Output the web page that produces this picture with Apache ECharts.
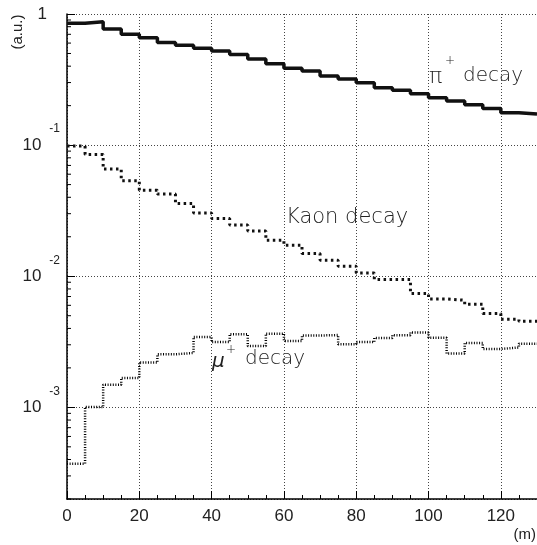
<!DOCTYPE html>
<html><head><meta charset="utf-8">
<script src="https://cdn.jsdelivr.net/npm/echarts@6/dist/echarts.min.js"></script>
<style>html,body{margin:0;padding:0;background:#fff}#c{width:537px;height:545px}</style>
</head><body><div id="c"></div>
<script>
// bin lower edges (m), bin width 5 m, last edge 130 m
const binStart = [0,5,10,15,20,25,30,35,40,45,50,55,60,65,70,75,80,85,90,95,100,105,110,115,120,125];
const binEndLast = 130;
const piDecay = [0.849,0.873,0.768,0.700,0.659,0.606,0.578,0.547,0.522,0.492,0.453,0.417,0.385,0.367,0.336,0.319,0.299,0.274,0.262,0.246,0.2297,0.2168,0.203,0.1906,0.1764,0.1724];
const kaonDecay = [0.0983,0.0849,0.0656,0.0534,0.0453,0.0423,0.0359,0.0304,0.0276,0.0246,0.0221,0.0188,0.01724,0.0149,0.01325,0.01192,0.0106,0.00944,0.00944,0.00738,0.00671,0.00656,0.00611,0.00519,0.00470,0.00453];
const muDecay = [0.000372,0.001005,0.00149,0.001674,0.002194,0.002539,0.002598,0.00344,0.00315,0.00361,0.00294,0.00365,0.00321,0.00353,0.00356,0.00303,0.00315,0.00338,0.00355,0.00372,0.00340,0.00257,0.00310,0.00279,0.00286,0.00306];
const xTickLabels = [0,20,40,60,80,100,120];
const yDecades = [1e-4,1e-3,1e-2,1e-1];
const minorMultipliers = [2,3,4,5,6,7,8,9];

function hist(vals){
  const d = binStart.map((x,i)=>[x, vals[i]]);
  d.push([binEndLast, vals[vals.length-1]]);
  return d;
}
const minorTicks = [];
yDecades.forEach(dec => minorMultipliers.forEach(m => { const v = m*dec; if (v >= 2e-4 && v < 1) minorTicks.push([0, v]); }));

const chart = echarts.init(document.getElementById('c'), null, {renderer:'canvas'});
const gridLine = {show:true, lineStyle:{type:[1,2], color:'#444', width:1}};
const labelFont = "'Liberation Sans', Arial, sans-serif";
const annFont = "'DejaVu Sans', sans-serif";
chart.setOption({
  animation:false,
  backgroundColor:'#fff',
  grid:{left:67, top:14, right:0, bottom:46, containLabel:false},
  xAxis:{
    type:'value', min:0, max:130, interval:20,
    axisLine:{show:true, onZero:false, lineStyle:{color:'#000', width:1.5}},
    axisTick:{show:true, inside:true, length:8, lineStyle:{color:'#000'}},
    minorTick:{show:true, splitNumber:4, length:4, lineStyle:{color:'#000'}},
    splitLine:gridLine,
    axisLabel:{
      margin:9, fontSize:17, color:'#222', fontFamily:labelFont, showMaxLabel:false,
      formatter: v => xTickLabels.indexOf(v) >= 0 ? String(v) : ''
    }
  },
  yAxis:{
    type:'log', logBase:10, min:2e-4, max:1,
    axisLine:{show:true, lineStyle:{color:'#000', width:1.5}},
    axisTick:{show:true, inside:true, length:8, lineStyle:{color:'#000'}},
    splitLine:gridLine,
    axisLabel:{
      margin:7, color:'#222', fontFamily:labelFont, showMinLabel:false,
      formatter: v => {
        const l = Math.log10(v), e = Math.round(l);
        if (Math.abs(l - e) > 1e-6) return '';
        if (e === 0) return '{one|1}';
        return '{b|10}{s|' + e + '}';
      },
      rich:{
        b:{fontSize:17, lineHeight:44, color:'#222', fontFamily:labelFont},
        s:{fontSize:12, lineHeight:12, verticalAlign:'top', padding:[0,0,0,8], color:'#222', fontFamily:labelFont},
        one:{fontSize:17, lineHeight:20, padding:[0,13,0,0], color:'#222', fontFamily:labelFont}
      }
    }
  },
  series:[
    {type:'line', name:'pi', step:'end', symbol:'none', data:hist(piDecay),
     lineStyle:{color:'#111', width:3.5}},
    {type:'line', name:'kaon', step:'end', symbol:'none', data:hist(kaonDecay),
     lineStyle:{color:'#111', width:3, type:[2.5,3.5]}},
    {type:'line', name:'mu', step:'end', symbol:'none', data:hist(muDecay),
     lineStyle:{color:'#000', width:2.5, type:[1,1.6]}},
    {type:'custom', name:'yminor', silent:true, clip:false, data:minorTicks,
     renderItem:(params, api) => {
       const p = api.coord([0, api.value(1)]);
       return {type:'line', shape:{x1:p[0], y1:p[1], x2:p[0]+4, y2:p[1]}, style:{stroke:'#000', lineWidth:1}};
     }}
  ],
  graphic:[
    {type:'text', x:18, y:32, rotation:Math.PI/2, style:{text:'(a.u.)', font:"15px "+labelFont, fill:'#222', align:'center', verticalAlign:'middle'}},
    {type:'text', x:536, y:535, style:{text:'(m)', font:"15px "+labelFont, fill:'#222', align:'right', verticalAlign:'middle'}},
    {type:'text', x:429, y:77, style:{text:'π', font:"200 22px "+annFont, fill:'#222', align:'left', verticalAlign:'middle'}},
    {type:'text', x:450, y:61, style:{text:'+', font:"200 12px "+annFont, fill:'#222', align:'center', verticalAlign:'middle'}},
    {type:'text', x:463, y:76, style:{text:'decay', font:"200 20px "+annFont, fill:'#222', align:'left', verticalAlign:'middle'}},
    {type:'text', x:286, y:218, style:{text:'Kaon decay', font:"200 21px "+annFont, fill:'#222', align:'left', verticalAlign:'middle'}},
    {type:'text', x:212, y:362, style:{text:'μ', font:"italic 200 20px "+annFont, fill:'#222', align:'left', verticalAlign:'middle'}},
    {type:'text', x:231, y:350, style:{text:'+', font:"200 12px "+annFont, fill:'#222', align:'center', verticalAlign:'middle'}},
    {type:'text', x:245, y:359, style:{text:'decay', font:"200 20px "+annFont, fill:'#222', align:'left', verticalAlign:'middle'}}
  ]
});
</script>
</body></html>
